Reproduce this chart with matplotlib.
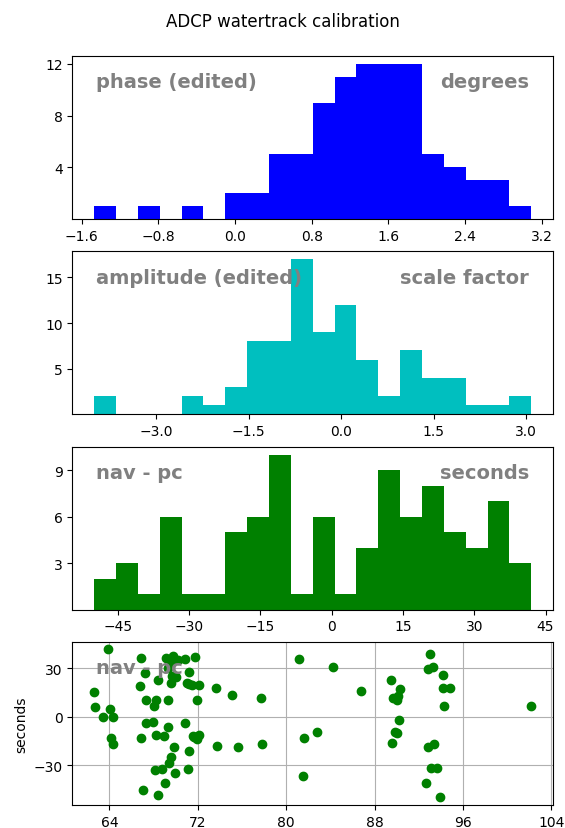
import matplotlib
matplotlib.use('Agg')
import matplotlib.pyplot as plt
import numpy as np

### HISTOGRAM DATA (counts per bin, 20 bins each)
phase_lo, phase_hi = -1.47, 3.09
phase_counts = [1, 0, 1, 0, 1, 0, 2, 2, 5, 5, 9, 11, 12, 12, 12, 5, 4, 3, 3, 1]

amp_lo, amp_hi = -4.0, 3.08
amp_counts = [2, 0, 0, 0, 2, 1, 3, 8, 8, 17, 9, 12, 6, 2, 7, 4, 4, 1, 1, 2]

dt_lo, dt_hi = -50.0, 42.0
dt_counts = [2, 3, 1, 6, 1, 1, 5, 6, 10, 1, 6, 1, 4, 9, 6, 8, 5, 4, 7, 3]

### SCATTER DATA (nav - pc in seconds against time)
scat_t = [93.95, 68.45,
          67.04, 69.08, 92.66,
          81.51,
          68.09, 68.75, 69.98, 71.08, 93.10, 93.62,
          69.44,
          69.59,
          69.83, 71.24, 73.73, 75.60, 92.87,
          64.35, 64.13, 71.89, 77.83, 89.57, 93.35,
          66.83, 68.24, 68.93, 71.53, 72.10, 71.70, 81.63, 82.80, 89.81, 90.02,
          69.29,
          67.28, 67.94, 70.88, 63.40, 64.35, 90.20,
          64.10,
          62.73, 68.03, 94.31, 102.18,
          67.34, 68.18, 69.35, 71.89, 75.13, 77.71, 89.66, 90.02, 90.11,
          62.63, 73.64, 86.76, 90.32, 94.16, 94.81,
          66.74, 71.50, 72.07, 71.20, 69.59, 70.99, 68.40, 89.51,
          67.19, 70.04, 71.17, 94.16, 69.70,
          84.20, 92.81, 93.26, 69.30,
          66.89, 69.14, 70.85, 71.75, 81.18, 70.20, 69.60,
          63.84, 93.05, 69.74]
scat_dt = [-50.1, -48.7,
           -45.2, -41.0, -41.0,
           -37.1,
           -33.2, -32.5, -35.2, -32.5, -32.1, -32.1,
           -28.6,
           -24.8,
           -19.1, -21.1, -18.3, -18.9, -18.9,
           -17.0, -13.5, -13.9, -17.0, -16.2, -16.8,
           -13.0, -11.4, -12.0, -12.0, -11.6, -12.8, -13.0, -9.6, -9.3, -10.4,
           -6.2,
           -3.9, -3.5, -3.9, 0.0, 0.0, -2.1,
           4.7,
           6.0, 6.6, 6.6, 6.6,
           10.7, 10.7, 10.7, 10.7, 13.4, 11.4, 11.4, 10.7, 13.0,
           15.1, 17.6, 15.9, 17.1, 17.6, 17.6,
           19.2, 19.6, 19.6, 20.2, 20.7, 21.1, 22.9, 22.7,
           27.3, 24.8, 27.5, 25.8, 25.6,
           31.0, 29.6, 31.1, 30.0,
           36.2, 36.2, 35.8, 36.8, 35.8, 35.2, 34.2,
           41.8, 38.7, 37.9]

### TICKS
phase_xticks = [-1.6, -0.8, 0.0, 0.8, 1.6, 2.4, 3.2]
phase_yticks = [4, 8, 12]
amp_xticks = [-3.0, -1.5, 0.0, 1.5, 3.0]
amp_yticks = [5, 10, 15]
dt_xticks = [-45, -30, -15, 0, 15, 30, 45]
dt_yticks = [3, 6, 9]
scat_xticks = [64, 72, 80, 88, 96, 104]
scat_yticks = [-30, 0, 30]

txtkw = dict(fontsize=14, fontweight='bold', color='gray', va='top')

fig, axs = plt.subplots(4, 1, figsize=(5.65, 8.29), dpi=100)
fig.subplots_adjust(left=0.128, right=0.979, top=0.931, bottom=0.028, hspace=0.2)
fig.suptitle('ADCP watertrack calibration', y=0.984)

def histpanel(ax, lo, hi, counts, col, left, right, xt, yt):
    edges = np.linspace(lo, hi, len(counts) + 1)
    ax.hist(edges[:-1], bins=edges, weights=counts, color=col)
    ax.set_xticks(xt)
    ax.set_yticks(yt)
    ax.text(0.05, 0.9, left, transform=ax.transAxes, ha='left', **txtkw)
    ax.text(0.95, 0.9, right, transform=ax.transAxes, ha='right', **txtkw)

histpanel(axs[0], phase_lo, phase_hi, phase_counts, 'b',
          'phase (edited)', 'degrees', phase_xticks, phase_yticks)
histpanel(axs[1], amp_lo, amp_hi, amp_counts, 'c',
          'amplitude (edited)', 'scale factor', amp_xticks, amp_yticks)
histpanel(axs[2], dt_lo, dt_hi, dt_counts, 'g',
          'nav - pc', 'seconds', dt_xticks, dt_yticks)

### TIME SERIES OF THE OFFSET
ax = axs[3]
ax.plot(scat_t, scat_dt, 'go')
ax.set_xticks(scat_xticks)
ax.set_yticks(scat_yticks)
ax.grid(True)
ax.set_ylabel('seconds')
ax.text(0.05, 0.9, 'nav - pc', transform=ax.transAxes, ha='left', **txtkw)

fig.savefig('out.png', dpi=100, facecolor='w')
